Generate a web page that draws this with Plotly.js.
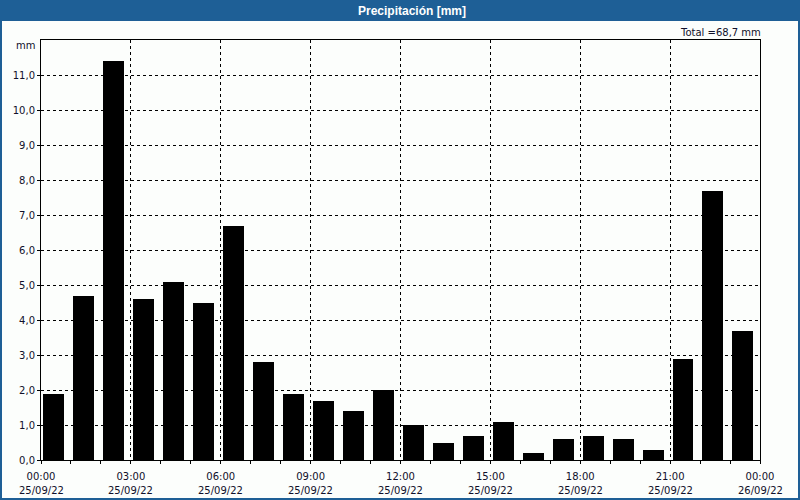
<!DOCTYPE html>
<html>
<head>
<meta charset="utf-8">
<script src="https://cdn.plot.ly/plotly-3.0.1.min.js"></script>
<style>html,body{margin:0;padding:0;background:#fff;}#chart{width:800px;height:500px;}</style>
</head>
<body>
<div id="chart"></div>
<script>
// ---- data ----
const hours = [0,1,2,3,4,5,6,7,8,9,10,11,12,13,14,15,16,17,18,19,20,21,22,23];
const precip = [1.9,4.7,11.4,4.6,5.1,4.5,6.7,2.8,1.9,1.7,1.4,2.0,1.0,0.5,0.7,1.1,0.2,0.6,0.7,0.6,0.3,2.9,7.7,3.7];
const tickHours = [0,3,6,9,12,15,18,21,24];
const tickTimes = ['00:00','03:00','06:00','09:00','12:00','15:00','18:00','21:00','00:00'];
const tickDates = ['25/09/22','25/09/22','25/09/22','25/09/22','25/09/22','25/09/22','25/09/22','25/09/22','26/09/22'];
const yTicks = [0,1,2,3,4,5,6,7,8,9,10,11];
const titleText = 'Precipitación [mm]';
const totalText = 'Total =68,7 mm';
const unitText = 'mm';

// ---- layout geometry ----
const W = 800, H = 500, ML = 41, MR = 40, MT = 40, MB = 40;
const PW = W - ML - MR, PH = H - MT - MB;
const px = v => (v - ML) / PW;
const py = v => (H - MB - v) / PH;
const blue = '#1e5f96';
const txt = '#10102a';
const font = 'DejaVu Sans, Verdana, sans-serif';

const trace = {
  type: 'bar',
  x: hours,
  y: precip,
  offset: 0.08,
  width: 0.7,
  marker: {color: '#000000', line: {width: 0}},
  hoverinfo: 'skip'
};

const dateAnn = tickHours.map((h, i) => ({
  xref: 'x', yref: 'paper', x: h, y: py(490),
  text: tickDates[i], showarrow: false, xanchor: 'center', yanchor: 'middle',
  font: {family: font, size: 10, color: txt}
}));

const layout = {
  width: W, height: H,
  margin: {l: ML, r: MR, t: MT, b: MB, pad: 0},
  paper_bgcolor: '#fcfefc',
  plot_bgcolor: '#fcfefc',
  separators: ',.',
  showlegend: false,
  bargap: 0,
  title: {
    text: titleText,
    font: {family: 'Liberation Sans, Arial, sans-serif', size: 12, color: '#ffffff', weight: 'bold'},
    x: 412 / W, xanchor: 'center', xref: 'container',
    y: 1 - 10.5 / H, yanchor: 'middle', yref: 'container'
  },
  xaxis: {
    range: [0, 24],
    tickmode: 'array', tickvals: tickHours, ticktext: tickTimes,
    ticks: 'outside', ticklen: 3, tickcolor: '#000',
    ticklabelstandoff: 4,
    showline: true, linecolor: '#000', linewidth: 1, mirror: true,
    showgrid: true, gridcolor: '#000', gridwidth: 1, griddash: '3px,3px',
    zeroline: false,
    tickfont: {family: font, size: 10, color: txt},
    minor: {tickmode: 'linear', tick0: 0, dtick: 1, ticks: 'outside', ticklen: 3, tickcolor: '#000', showgrid: false},
    fixedrange: true
  },
  yaxis: {
    range: [0, 12],
    tickmode: 'array', tickvals: yTicks, tickformat: '.1f',
    ticks: 'outside', ticklen: 3, tickcolor: '#000',
    showline: true, linecolor: '#000', linewidth: 1, mirror: true,
    showgrid: true, gridcolor: '#000', gridwidth: 1, griddash: '3px,3px',
    zeroline: false,
    tickfont: {family: font, size: 10, color: txt},
    fixedrange: true
  },
  shapes: [
    {type: 'rect', xref: 'paper', yref: 'paper', x0: px(0), x1: px(W), y0: py(21), y1: py(0),
     fillcolor: blue, line: {width: 0}, layer: 'below'},
    {type: 'rect', xref: 'paper', yref: 'paper', x0: px(1), x1: px(W - 1), y0: py(H - 1), y1: py(1),
     fillcolor: 'rgba(0,0,0,0)', line: {color: blue, width: 2}}
  ],
  annotations: [
    {xref: 'paper', yref: 'paper', x: px(763), y: py(32), xanchor: 'right', yanchor: 'middle',
     text: totalText, showarrow: false, font: {family: font, size: 10, color: txt}},
    {xref: 'paper', yref: 'paper', x: px(37), y: py(46), xanchor: 'right', yanchor: 'middle',
     text: unitText, showarrow: false, font: {family: font, size: 10, color: txt}}
  ].concat(dateAnn)
};

Plotly.newPlot('chart', [trace], layout, {displayModeBar: false, staticPlot: true});
</script>
</body>
</html>
